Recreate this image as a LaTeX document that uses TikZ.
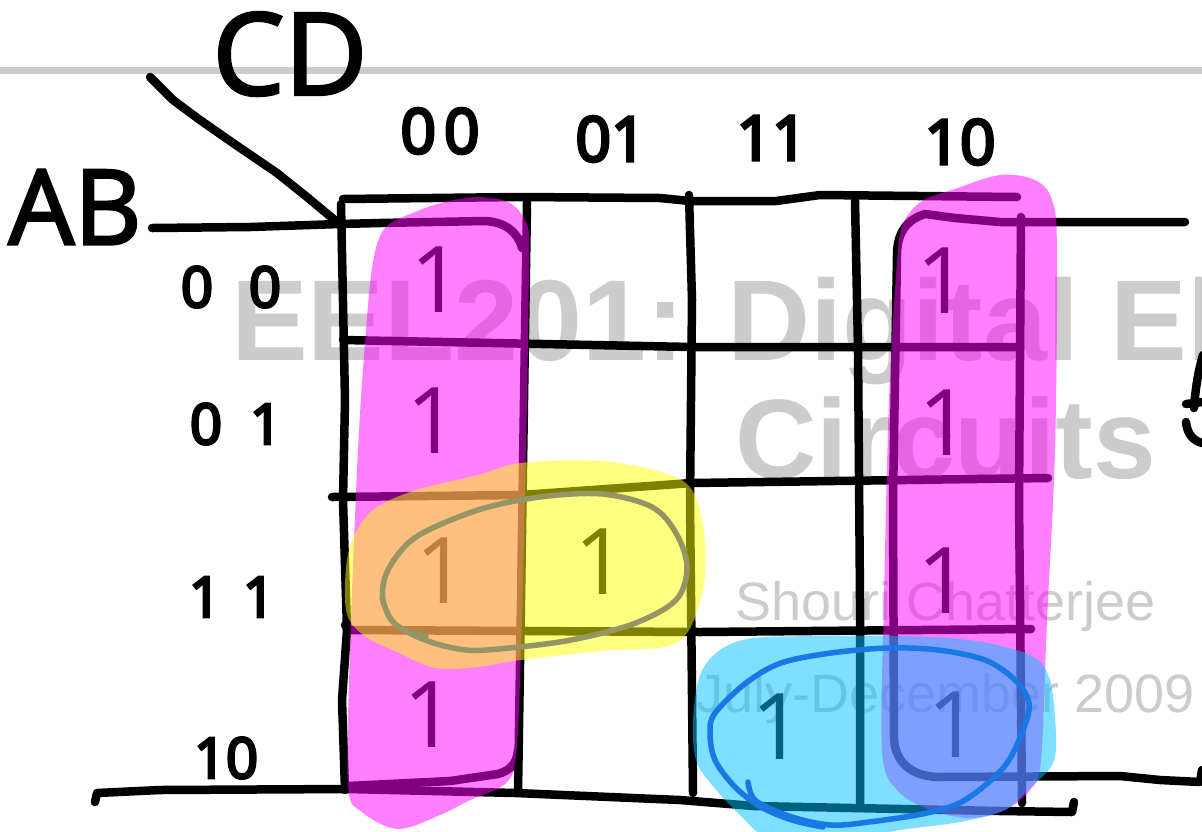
\documentclass[tikz,border=0pt]{standalone}
\usepackage{fontspec}
\setmainfont{Open Sans}
\newfontfamily\wmfont{Liberation Sans}
\newfontfamily\semib{Open Sans}[FakeBold=5]
\newfontfamily\medb{Open Sans}[FakeBold=2.5]
\definecolor{wm}{RGB}{204,204,204}
\definecolor{hlpink}{RGB}{255,0,255}
\definecolor{hlyellow}{RGB}{255,255,0}
\definecolor{hlcyan}{RGB}{0,192,255}
\definecolor{olivering}{RGB}{150,150,100}
\definecolor{bluering}{RGB}{25,120,230}
\tikzset{
  pen/.style={line width=8.5pt, line cap=round, line join=round, black},
  hl/.style={fill opacity=0.5},
  ring/.style={line width=5.5pt, line cap=round, line join=round},
  wmtext/.style={inner sep=0pt, anchor=base west, text=wm},
  lbl/.style={inner sep=0pt, font=\semib\fontsize{62}{62}\selectfont},
  one/.style={inner sep=0pt, font=\fontsize{92}{92}\selectfont}
}
\begin{document}
\begin{tikzpicture}[x=1pt,y=-1pt]
\useasboundingbox (0,0) rectangle (1202,831);
\clip (0,0) rectangle (1202,831);
\fill[white] (0,0) rectangle (1202,831);

% header rule and watermark
\draw[wm, line width=7pt] (0,70) -- (1202,70);
\node[wmtext, font=\wmfont\bfseries\fontsize{115}{115}\selectfont] (title1) at (231,360) {EEL201: Digital Electronic};
\node[wmtext, font=\wmfont\bfseries\fontsize{113}{113}\selectfont] (title2) at (735,478) {Circuits};
\node[wmtext, font=\wmfont\fontsize{54}{54}\selectfont] (author) at (735,620) {Shouri Chatterjee};
\node[wmtext, font=\wmfont\fontsize{54}{54}\selectfont] (date) at (696,712) {July-December 2009};

% variable labels
\node[inner sep=0pt, font=\medb\fontsize{104}{104}\selectfont] (AB) at (75,207) {AB};
\node[inner sep=0pt, font=\medb\fontsize{114}{114}\selectfont] (CD) at (290,54) {CD};
\draw[pen] (150,77) -- (173,100) -- (200,120) -- (233,143) -- (277,173) -- (307,197) -- (337,222);

% column labels
\node[lbl] (c00) at (440,131) {0\kern8pt0};
\node[lbl] (c01) at (611,139) {01};
\node[lbl] (c11) at (772,138) {11};
\node[lbl] (c10) at (960,142) {10};
% row labels
\node[lbl, font=\semib\fontsize{56}{56}\selectfont] (r00) at (231,287) {0\kern36pt0};
\node[lbl, font=\semib\fontsize{56}{56}\selectfont] (r01) at (236,424) {0\kern28pt1};
\node[lbl, font=\semib\fontsize{56}{56}\selectfont] (r11) at (232,597) {1\kern22pt1};
\node[lbl, font=\semib\fontsize{56}{56}\selectfont] (r10) at (226,758) {10};

% grid
\draw[pen] (343,199) -- (520,197) -- (660,198) -- (690,201) -- (776,201) -- (820,195) -- (1017,197);
\draw[pen] (152,228) -- (250,227) -- (340,224) -- (380,223) -- (485,221) .. controls (505,222) and (518,232) .. (522,248);
\draw[pen] (341,204) -- (345,400) -- (343,500) -- (347,630) -- (342,700) -- (345,790);
\draw[pen] (527,202) -- (524,400) -- (521,600) -- (518,792);
\draw[pen] (689,195) -- (692,300) -- (690,500) -- (693,793);
\draw[pen] (855,201) -- (858,350) -- (860,600) -- (860,807);
\draw[pen] (1021,217) -- (1019,500) -- (1022,803);
\draw[pen] (343,340) -- (692,347) -- (1020,347);
\draw[pen] (332,497) -- (521,495) -- (692,483) -- (1048,478);
\draw[pen] (345,625) -- (350,630) -- (700,632) -- (1031,629);
\draw[pen] (95,802) -- (97,793) -- (160,790) -- (348,789) -- (516,793) -- (680,800) -- (754,806) -- (1000,811) -- (1072,812) -- (1074,802);
\draw[pen] (348,786) -- (450,781) -- (498,774) .. controls (512,770) and (517,762) .. (518,750);
\draw[pen] (1185,222) -- (1000,222) -- (955,218) -- (925,214) .. controls (905,220) and (897,235) .. (897,255) -- (893,500) -- (894,740) .. controls (896,765) and (915,777) .. (940,777) -- (1120,776) -- (1160,780) -- (1200,782) -- (1202,770);
% partial mark at right edge
\draw[pen] (1203,355) .. controls (1197,375) and (1195,395) .. (1194,408);
\draw[pen] (1186,404) -- (1203,402);
\draw[pen] (1186,422) .. controls (1187,435) and (1195,442) .. (1203,443);

% ones
\node[one] (m0) at (437,280) {1};
\node[one] (m1) at (433,421) {1};
\node[one] (m3) at (442,571) {1};
\node[one] (m2) at (430,715) {1};
\node[one] (m7) at (601,562) {1};
\node[one] (m10) at (778,727) {1};
\node[one] (m8) at (943,281) {1};
\node[one] (m9) at (945,423) {1};
\node[one] (m11) at (944,581) {1};
\node[one] (m12) at (954,725) {1};

% highlighter strokes
\fill[hlpink, hl] plot[smooth cycle, tension=0.55] coordinates {(373,262) (385,228) (415,212) (445,202) (478,197) (510,203) (527,225) (529,262) (526,450) (521,650) (516,755) (505,784) (470,800) (440,815) (398,829) (362,812) (348,785) (350,650) (358,450) (366,330)};
\fill[hlpink, hl] plot[smooth cycle, tension=0.55] coordinates {(897,262) (903,224) (922,201) (955,189) (1000,175) (1035,180) (1052,200) (1057,250) (1055,450) (1047,620) (1041,760) (1030,790) (1005,810) (970,818) (930,810) (897,790) (882,750) (884,600) (889,400)};
\fill[hlyellow, hl] plot[smooth cycle, tension=0.55] coordinates {(521,463) (602,461) (664,473) (692,490) (704,533) (704,583) (689,630) (664,647) (602,651) (521,660) (478,667) (435,668) (397,652) (366,637) (348,617) (345,583) (351,543) (373,510) (416,490) (478,475)};
\fill[hlcyan, hl] plot[smooth cycle, tension=0.55] coordinates {(693,720) (700,675) (720,650) (754,638) (830,636) (900,636) (970,640) (1030,655) (1050,680) (1056,737) (1052,765) (1031,787) (1005,810) (960,822) (900,830) (840,840) (770,838) (740,815) (712,785) (696,760)};

% loops
\draw[ring, olivering] plot[smooth, tension=0.55] coordinates {(382,598) (393,622) (425,640) (466,650) (509,648) (571,640) (633,624) (676,600) (687,567) (676,533) (652,507) (602,494) (540,497) (478,510) (416,537) (388,570) (383,600) (397,626) (426,636)};
\draw[ring, bluering] plot[smooth, tension=0.55] coordinates {(748,782) (756,801) (792,817) (831,825) (869,822) (927,813) (965,800) (1004,767) (1023,730) (1029,703) (1015,680) (985,660) (938,650) (888,648) (831,653) (781,663) (746,683) (715,713) (710,733) (715,760) (735,787) (761,807) (792,820) (823,827)};
\end{tikzpicture}
\end{document}
